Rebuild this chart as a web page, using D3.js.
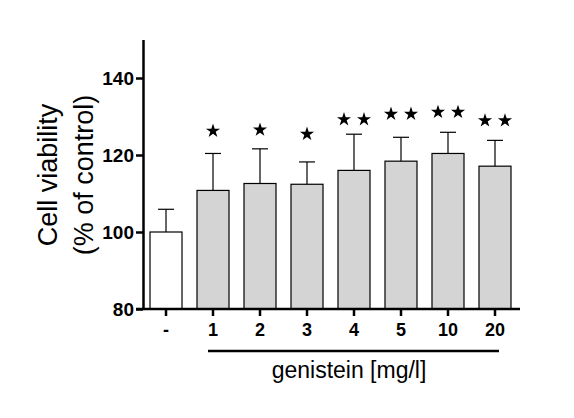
<!DOCTYPE html>
<html>
<head>
<meta charset="utf-8">
<script src="https://cdn.jsdelivr.net/npm/d3@7"></script>
<style>
  body { margin: 0; background: #fff; }
  text { font-family: "Liberation Sans", Arial, sans-serif; }
</style>
</head>
<body>
<div id="chart"></div>
<script>
// data
const groups = ["-", "1", "2", "3", "4", "5", "10", "20"];
const viability = [100, 110.8, 112.6, 112.4, 116.0, 118.4, 120.4, 117.1];
const errorTop = [105.9, 120.4, 121.6, 118.2, 125.4, 124.6, 125.9, 123.8];
const stars = [0, 1, 1, 1, 2, 2, 2, 2];
const starLevel = [0, 126.5, 126.8, 125.7, 129.5, 130.9, 131.4, 129.2];
const yTicks = [80, 100, 120, 140];

const width = 574, height = 418;

const svg = d3.select("#chart")
    .append("svg")
    .attr("width", width)
    .attr("height", height);

const x = d3.scaleBand()
    .domain(groups)
    .range([143, 518])
    .paddingInner(0.319)
    .paddingOuter(0.149);

const y = d3.scaleLinear()
    .domain([80, 150])
    .range([309, 39.5]);

const mid = d => x(d) + x.bandwidth() / 2;

// bars
svg.selectAll(".bar")
    .data(groups)
    .enter().append("rect")
    .attr("class", "bar")
    .attr("x", d => x(d))
    .attr("y", (d, i) => y(viability[i]))
    .attr("width", x.bandwidth())
    .attr("height", (d, i) => y(80) - y(viability[i]))
    .attr("fill", (d, i) => i === 0 ? "#ffffff" : "#d4d4d4")
    .attr("stroke", "#000")
    .attr("stroke-width", 1.2);

// error bars (upper only)
const err = svg.append("g")
    .attr("stroke", "#000")
    .attr("stroke-width", 1.2);

groups.forEach((g, i) => {
    const cx = mid(g);
    err.append("line")
        .attr("x1", cx).attr("x2", cx)
        .attr("y1", y(viability[i])).attr("y2", y(errorTop[i]));
    err.append("line")
        .attr("x1", cx - 8).attr("x2", cx + 8)
        .attr("y1", y(errorTop[i])).attr("y2", y(errorTop[i]));
});

// significance stars
const star = d3.symbol().type(d3.symbolStar).size(62);
groups.forEach((g, i) => {
    const cx = mid(g);
    const offs = stars[i] === 2 ? [-10, 10] : stars[i] === 1 ? [0] : [];
    offs.forEach(o => {
        svg.append("path")
            .attr("d", star())
            .attr("transform", `translate(${cx + o}, ${y(starLevel[i]) + 1})`)
            .attr("fill", "#000");
    });
});

// y axis
const yAxis = svg.append("g")
    .attr("transform", "translate(143, 0)")
    .call(d3.axisLeft(y)
        .tickValues(yTicks)
        .tickSize(7)
        .tickSizeOuter(0)
        .tickPadding(2));

yAxis.selectAll("path, line")
    .attr("stroke", "#000")
    .attr("stroke-width", 2.5);
yAxis.selectAll("text")
    .style("font-size", "19px")
    .style("font-weight", "bold")
    .attr("fill", "#000");

// x axis
const xAxis = svg.append("g")
    .attr("transform", "translate(0, 309)")
    .call(d3.axisBottom(x)
        .tickSize(7)
        .tickSizeOuter(0)
        .tickPadding(7));

xAxis.select(".domain").attr("d", "M136,0H520");
xAxis.selectAll("path, line")
    .attr("stroke", "#000")
    .attr("stroke-width", 2.5);
xAxis.selectAll("text")
    .style("font-size", "18px")
    .style("font-weight", "bold")
    .attr("fill", "#000");

// genistein bracket line
svg.append("line")
    .attr("x1", mid("1") - 5)
    .attr("x2", mid("20") + 4)
    .attr("y1", 351).attr("y2", 351)
    .attr("stroke", "#000")
    .attr("stroke-width", 2.5);

svg.append("text")
    .attr("x", 349)
    .attr("y", 378)
    .attr("text-anchor", "middle")
    .style("font-size", "23px")
    .text("genistein [mg/l]");

// y axis title
svg.append("text")
    .attr("transform", "translate(57, 175) rotate(-90)")
    .attr("text-anchor", "middle")
    .style("font-size", "27px")
    .text("Cell viability");

svg.append("text")
    .attr("transform", "translate(93, 175) rotate(-90)")
    .attr("text-anchor", "middle")
    .style("font-size", "27px")
    .text("(% of control)");
</script>
</body>
</html>
